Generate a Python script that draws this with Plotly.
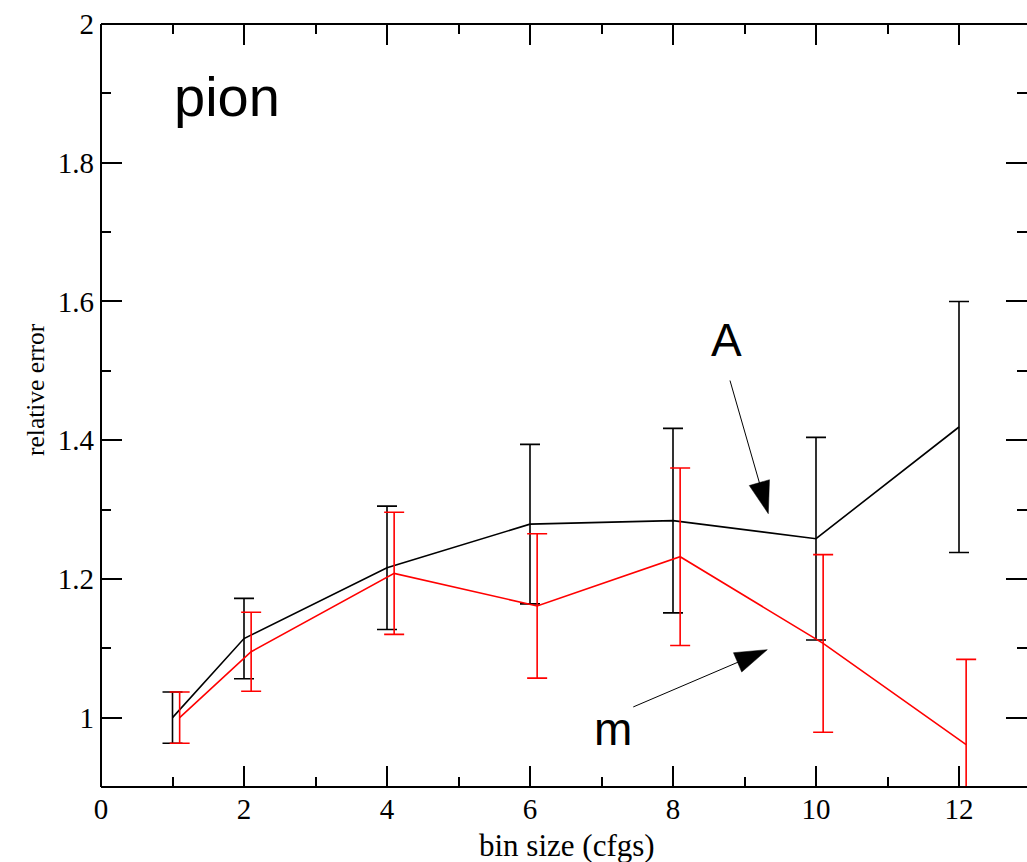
import plotly.graph_objects as go

# bin sizes (configurations per bin)
bins_A = [1, 2, 4, 6, 8, 10, 12]
bins_m = [1.1, 2.1, 4.1, 6.1, 8.1, 10.1, 12.1]   # shifted slightly so the bars don't overlap

# relative error of the pion amplitude A and mass m, with their uncertainties
rel_err_A = [1.000, 1.114, 1.216, 1.279, 1.284, 1.258, 1.419]
unc_A = [0.037, 0.058, 0.089, 0.115, 0.133, 0.146, 0.181]

rel_err_m = [1.000, 1.095, 1.208, 1.161, 1.232, 1.107, 0.961]
unc_m = [0.037, 0.057, 0.088, 0.104, 0.128, 0.128, 0.123]

# pointer arrows for the two curve labels: (start, tip)
arrow_A_x = [8.797, 9.333]
arrow_A_y = [1.486, 1.294]
arrow_m_x = [7.444, 9.319]
arrow_m_y = [1.0154, 1.098]

SERIF = "Liberation Serif"
SANS = "Liberation Sans"

fig = go.Figure()

fig.add_trace(go.Scatter(
    x=bins_A, y=rel_err_A, mode="lines",
    line=dict(color="#000000", width=1.6),
    error_y=dict(type="data", array=unc_A, symmetric=True,
                 color="#000000", thickness=1.6, width=10),
    showlegend=False,
))
fig.add_trace(go.Scatter(
    x=bins_m, y=rel_err_m, mode="lines",
    line=dict(color="#ff0000", width=1.6),
    error_y=dict(type="data", array=unc_m, symmetric=True,
                 color="#ff0000", thickness=1.6, width=10),
    showlegend=False,
))

for ax_, ay_ in ((arrow_A_x, arrow_A_y), (arrow_m_x, arrow_m_y)):
    fig.add_trace(go.Scatter(
        x=ax_, y=ay_, mode="lines+markers",
        line=dict(color="#000000", width=1),
        marker=dict(symbol="arrow", size=[0, 34], angleref="previous",
                    color="#000000", opacity=1,
                    line=dict(width=0.5, color="#000000")),
        showlegend=False, cliponaxis=False,
    ))

axis_common = dict(
    showline=False, mirror="ticks", ticks="inside", ticklen=21, tickwidth=2,
    tickcolor="#000000", showgrid=False, zeroline=False,
    tickfont=dict(family=SERIF, size=29, color="#000000"),
)

fig.update_xaxes(range=[0, 12.951], dtick=2, tick0=0, ticklabelstandoff=2,
                 minor=dict(dtick=1, ticks="inside", ticklen=10, tickwidth=2,
                            tickcolor="#000000"),
                 **axis_common)
fig.update_yaxes(range=[0.9, 2.0], dtick=0.2, tick0=0, ticklabelstandoff=6,
                 minor=dict(dtick=0.1, ticks="inside", ticklen=10, tickwidth=2,
                            tickcolor="#000000"),
                 **axis_common)

# frame: left, bottom and top edges of the plotting box
for x0, y0, x1, y1 in ((0, 0, 0, 1), (0, 0, 1, 0), (0, 1, 1, 1)):
    fig.add_shape(type="line", xref="paper", yref="paper",
                  x0=x0, y0=y0, x1=x1, y1=y1,
                  line=dict(color="#000000", width=2))

annotations = [
    dict(text="pion", x=1.762, y=1.8948, xref="x", yref="y",
         font=dict(family=SANS, size=56, color="#000000")),
    dict(text="A", x=8.748, y=1.544, xref="x", yref="y",
         font=dict(family=SANS, size=46, color="#000000")),
    dict(text="m", x=7.165, y=0.9843, xref="x", yref="y",
         font=dict(family=SANS, size=46, color="#000000")),
    dict(text="bin size (cfgs)", x=0.5032, y=(787 - 845) / 763,
         xref="paper", yref="paper",
         font=dict(family=SERIF, size=31, color="#000000")),
    dict(text="relative error", x=(35 - 101) / 926, y=0.5203,
         xref="paper", yref="paper", textangle=-90,
         font=dict(family=SERIF, size=25.5, color="#000000")),
]
for a in annotations:
    fig.add_annotation(showarrow=False, xanchor="center", yanchor="middle", **a)

fig.update_layout(
    width=1027, height=862,
    margin=dict(l=101, r=0, t=24, b=75, pad=0),
    paper_bgcolor="#ffffff", plot_bgcolor="#ffffff",
)

fig.write_html("out.html")
